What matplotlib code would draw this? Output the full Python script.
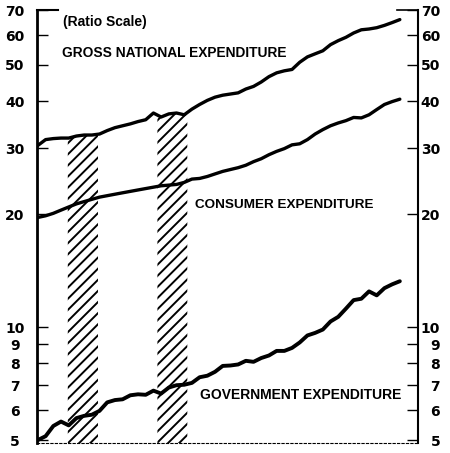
import numpy as np
import matplotlib.pyplot as plt
from matplotlib.ticker import FixedLocator, FixedFormatter, NullLocator

# Quarterly series, 1956 Q1 - 1967 Q4 (ratio scale)
quarters = 1956 + np.arange(48) / 4

gross_national = [30.5, 31.6, 31.8, 31.9, 31.9, 32.3, 32.5, 32.5, 32.7, 33.4,
                  34.0, 34.4, 34.8, 35.3, 35.7, 37.2, 36.3, 37.0, 37.2, 36.8,
                  38.1, 39.2, 40.2, 41.0, 41.5, 41.8, 42.1, 43.1, 43.8, 45.0,
                  46.5, 47.6, 48.2, 48.6, 50.8, 52.5, 53.5, 54.5, 56.6, 58.0,
                  59.2, 60.8, 62.0, 62.3, 62.8, 63.7, 64.8, 66.0]

consumer = [19.6, 19.8, 20.1, 20.5, 20.9, 21.3, 21.6, 21.9, 22.2, 22.4,
            22.6, 22.8, 23.0, 23.2, 23.4, 23.6, 23.8, 23.9, 24.0, 24.3,
            24.8, 24.9, 25.2, 25.6, 26.0, 26.3, 26.6, 27.0, 27.6, 28.1,
            28.8, 29.4, 29.9, 30.6, 30.8, 31.6, 32.7, 33.6, 34.4, 35.0,
            35.5, 36.2, 36.1, 36.8, 38.0, 39.2, 39.9, 40.5]

government = [5.0, 5.12, 5.45, 5.6, 5.47, 5.72, 5.8, 5.84, 5.98, 6.3,
              6.39, 6.42, 6.58, 6.62, 6.6, 6.77, 6.65, 6.9, 7.0, 7.02,
              7.1, 7.35, 7.42, 7.6, 7.88, 7.9, 7.95, 8.13, 8.08, 8.27,
              8.4, 8.64, 8.64, 8.8, 9.1, 9.5, 9.65, 9.85, 10.35, 10.65,
              11.2, 11.8, 11.9, 12.45, 12.15, 12.7, 13.0, 13.25]

# recession periods (start, end)
recessions = [(1956.97, 1957.95), (1959.88, 1960.85)]

y_ticks = [5, 6, 7, 8, 9, 10, 20, 30, 40, 50, 60, 70]
y_labels = [str(v) for v in y_ticks]

plt.rcParams['hatch.linewidth'] = 1.4

fig = plt.figure(figsize=(4.5, 4.53), dpi=100)
ax = fig.add_axes([0.0822, 0.0221, 0.8467, 0.9558])

ax.set_yscale('log')
ymin, ymax = 4.91, 70
ax.set_ylim(ymin, ymax)
ax.set_xlim(1955.97, 1968.34)

# hatched recession bands, up to the GNE line
for start, end in recessions:
    xs = np.linspace(start, end, 40)
    top = np.interp(xs, quarters, gross_national)
    ax.fill_between(xs, ymin, top, facecolor='none', edgecolor='black',
                    hatch='///', linewidth=0, zorder=1)

ax.plot(quarters, gross_national, color='black', lw=2.4, zorder=3,
        solid_capstyle='round')
ax.plot(quarters, consumer, color='black', lw=2.4, zorder=3,
        solid_capstyle='round')
ax.plot(quarters, government, color='black', lw=2.8, zorder=3,
        solid_capstyle='round')

# axes styling
ax.spines['top'].set_visible(False)
ax.spines['left'].set_linewidth(2.0)
ax.spines['right'].set_linewidth(1.5)
ax.spines['bottom'].set_linewidth(0.8)
ax.spines['bottom'].set_linestyle((0, (2, 2)))
ax.axhline(ymax, xmin=0, xmax=0.055, color='black', lw=1.5, clip_on=False)
ax.axhline(ymax, xmin=0.945, xmax=1, color='black', lw=1.2, clip_on=False)

ax.yaxis.set_major_locator(FixedLocator(y_ticks))
ax.yaxis.set_major_formatter(FixedFormatter(y_labels))
ax.yaxis.set_minor_locator(NullLocator())
ax.set_xticks([])
ax.tick_params(axis='y', which='major', direction='in', length=8, width=1,
               left=True, right=True, labelleft=True, labelright=True,
               pad=16)

for tick in ax.yaxis.get_major_ticks():
    tick.label1.set_horizontalalignment('center')
    tick.label1.set_fontweight('bold')
    tick.label1.set_fontsize(10)
    tick.label2.set_horizontalalignment('right')
    tick.label2.set_fontweight('bold')
    tick.label2.set_fontsize(10)

tfont = dict(family=['Liberation Sans', 'DejaVu Sans'], fontweight='bold',
             color='black', va='center', ha='left', transform=ax.transAxes)
ax.text(0.068, 0.972, '(Ratio Scale)', fontsize=10, **tfont)
ax.text(0.066, 0.901, 'GROSS NATIONAL EXPENDITURE', fontsize=9.9, **tfont)
ax.text(0.415, 0.550, 'CONSUMER EXPENDITURE', fontsize=9.7, **tfont)
ax.text(0.428, 0.111, 'GOVERNMENT EXPENDITURE', fontsize=10, **tfont)

fig.savefig('out.png', dpi=100)
